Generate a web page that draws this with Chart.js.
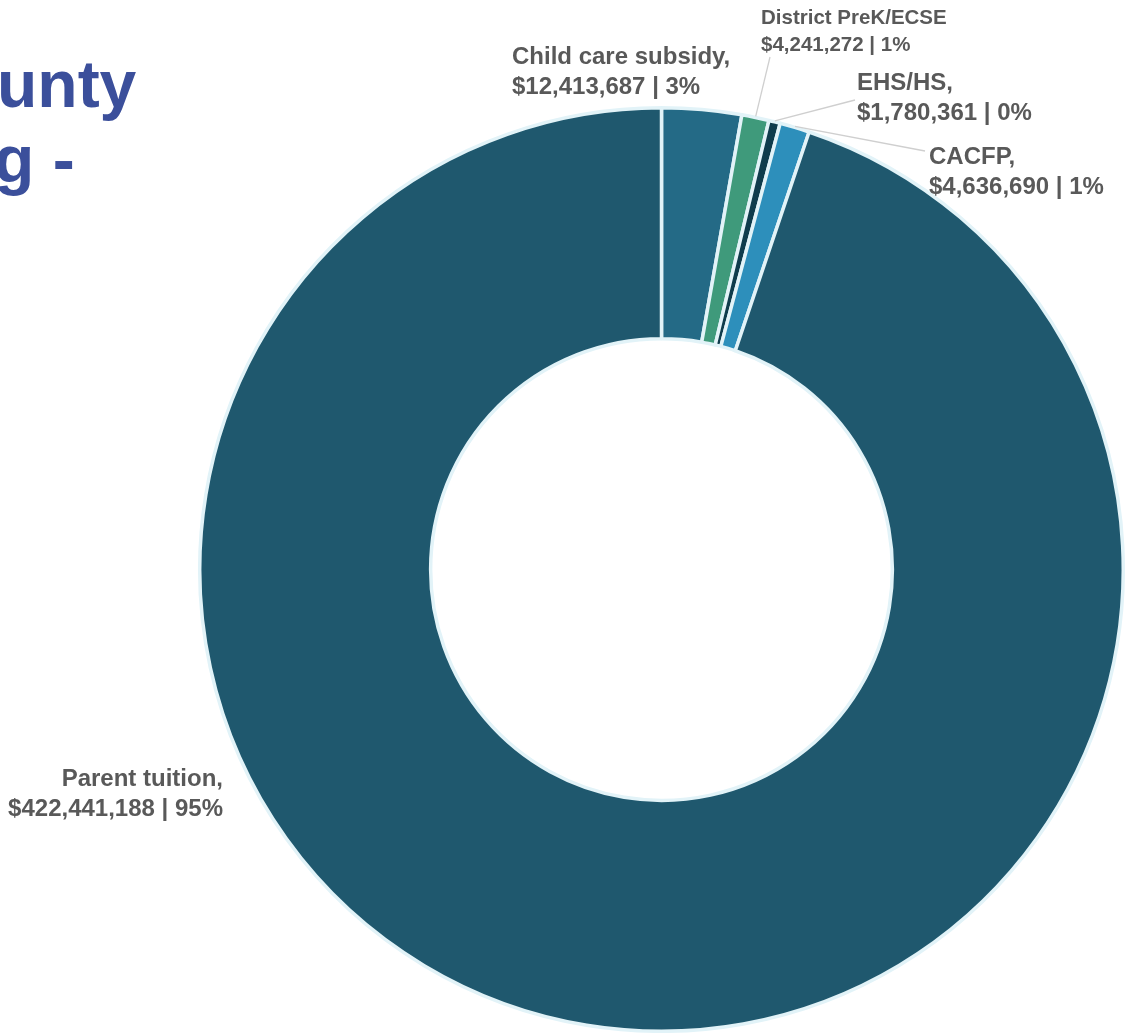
<!DOCTYPE html>
<html><head><meta charset="utf-8">
<script src="https://cdn.jsdelivr.net/npm/chart.js@4/dist/chart.umd.min.js"></script>
<style>
html,body{margin:0;padding:0;background:#fff;width:1125px;height:1033px;overflow:hidden;font-family:"Liberation Sans",Arial,sans-serif}
#wrap{position:absolute;left:0;top:0;width:1125px;height:1033px}
.title{position:absolute;left:0;color:#3b4f9b;font-weight:bold;font-size:66px;line-height:66px;white-space:nowrap}
</style></head>
<body>
<div class="title" style="top:51px;left:-3px">unty</div>
<div class="title" style="top:126px;left:-6px">g -</div>
<div id="wrap"><canvas id="c" width="1125" height="1033"></canvas></div>
<script>
const categories = ["Child care subsidy,", "District PreK/ECSE", "EHS/HS,", "CACFP,", "Parent tuition,"];
const amounts = [12413687, 4241272, 1780361, 4636690, 422441188];
const amountLabels = ["$12,413,687 | 3%", "$4,241,272 | 1%", "$1,780,361 | 0%", "$4,636,690 | 1%", "$422,441,188 | 95%"];
const colors = ["#246a86", "#3f9a7b", "#0f3c4c", "#2d8fbb", "#1f586e"];

// label placement
const labelPos = [
  {x:512, y:57, align:"left", size:24, lh:30, line:null},
  {x:761, y:18, align:"left", size:20.5, lh:27, line:[770,57]},
  {x:857, y:83, align:"left", size:24, lh:30, line:[855,100]},
  {x:929, y:157, align:"left", size:24, lh:30, line:[925,151]},
  {x:223, y:779, align:"right", size:24, lh:30, line:null}
];

const labelPlugin = {
  id: "labels",
  afterDraw(chart) {
    const ctx = chart.ctx;
    const meta = chart.getDatasetMeta(0);
    ctx.save();
    meta.data.forEach((arc, i) => {
      const p = labelPos[i];
      if (p.line) {
        const mid = (arc.startAngle + arc.endAngle) / 2;
        const r = arc.outerRadius + 1;
        const ex = arc.x + Math.cos(mid) * r;
        const ey = arc.y + Math.sin(mid) * r;
        ctx.strokeStyle = "#cfcfcf";
        ctx.lineWidth = 1.3;
        ctx.beginPath();
        ctx.moveTo(p.line[0], p.line[1]);
        ctx.lineTo(ex, ey);
        ctx.stroke();
      }
      ctx.fillStyle = "#595959";
      ctx.font = "bold " + p.size + "px 'Liberation Sans', Arial, sans-serif";
      ctx.textAlign = p.align;
      ctx.textBaseline = "middle";
      ctx.fillText(categories[i], p.x, p.y);
      ctx.fillText(amountLabels[i], p.x, p.y + p.lh);
    });
    ctx.restore();
  }
};

new Chart(document.getElementById("c"), {
  type: "doughnut",
  data: {
    labels: categories,
    datasets: [{
      data: amounts,
      backgroundColor: colors,
      borderColor: "#e2f3f8",
      borderWidth: 3.5,
      borderAlign: "center"
    }]
  },
  options: {
    responsive: false,
    animation: false,
    cutout: "50%",
    rotation: 0,
    layout: { padding: { left: 198, right: 0, top: 106, bottom: 0 } },
    plugins: { legend: { display: false }, tooltip: { enabled: false } }
  },
  plugins: [labelPlugin]
});
</script>
</body></html>
